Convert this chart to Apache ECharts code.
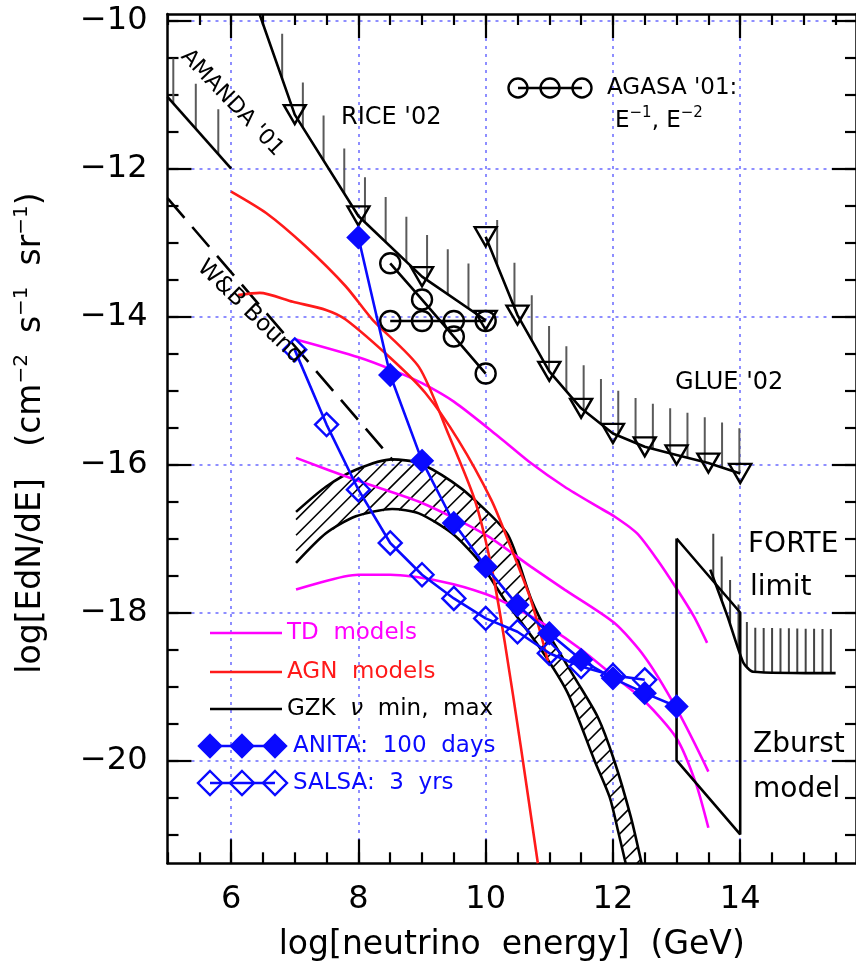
<!DOCTYPE html>
<html><head><meta charset="utf-8">
<script src="https://cdn.jsdelivr.net/npm/echarts@6/dist/echarts.min.js"></script>
<style>html,body{margin:0;padding:0;background:#fff}#c{width:856px;height:969px}</style>
</head><body><div id="c"></div><script>
// Axis ranges
const xMin = 5, xMax = 15.82, yMin = -21.39, yMax = -9.91;
const xMajor = [6, 8, 10, 12, 14];
const yMajor = [-20, -18, -16, -14, -12, -10];
const xMinor = []; for (let v = 5; v <= 15.5; v += 0.5) xMinor.push(v);
const yMinor = []; for (let v = -21; v <= -10; v += 0.5) yMinor.push(v);

// Experimental limits
const amandaX = [5.0, 6.0];
const amandaY = [-11.03, -12.0];
const riceX = [6.45, 7.0, 8.0, 9.0, 10.0];
const riceY = [-9.92, -11.27, -12.64, -13.46, -14.05];
const glueX = [10.0, 10.5, 11.0, 11.5, 12.0, 12.5, 13.0, 13.5, 14.0];
const glueY = [-12.92, -13.98, -14.74, -15.24, -15.58, -15.76, -15.87, -15.98, -16.12];
const agasaX = [8.5, 9.0, 9.5, 10.0];
const agasaE1 = [-14.06, -14.06, -14.06, -14.06];
const agasaE2 = [-13.28, -13.77, -14.27, -14.77];
const forteX = [13.53, 13.8, 14.05, 14.2, 15.5];
const forteY = [-17.42, -18.05, -18.68, -18.8, -18.82];
const zburstX = [13.0, 14.0, 14.0, 13.0, 13.0];
const zburstY = [-17.0, -18.0, -21.0, -20.0, -17.0];

// Waxman-Bahcall bound
const wbX = [5.0, 8.55];
const wbY = [-12.4, -15.95];

// GZK neutrino flux band
const gzkMaxX = [7.02, 7.49, 7.96, 8.53, 8.95, 9.47, 9.83, 10.35, 10.72, 10.98, 11.42, 11.76, 12.02, 12.28, 12.45];
const gzkMaxY = [-16.64, -16.30, -16.07, -15.93, -15.98, -16.23, -16.48, -16.95, -17.83, -18.28, -18.91, -19.41, -20.0, -20.76, -21.39];
const gzkMinX = [7.02, 7.49, 7.96, 8.53, 8.95, 9.47, 9.88, 10.30, 10.87, 11.29, 11.71, 11.95, 12.08, 12.2];
const gzkMinY = [-17.33, -16.93, -16.70, -16.60, -16.66, -16.93, -17.29, -17.83, -18.50, -19.09, -20.0, -20.5, -20.95, -21.39];

// Topological defect models
const td1X = [7.02, 8.0, 8.53, 9.0, 9.5, 10.2, 10.71, 11.24, 11.76, 12.02, 12.38, 12.70, 13.01, 13.27, 13.48];
const td1Y = [-14.31, -14.55, -14.72, -14.9, -15.15, -15.62, -15.98, -16.30, -16.57, -16.70, -16.93, -17.29, -17.69, -18.05, -18.41];
const td2X = [7.02, 7.96, 9.0, 10.0, 10.71, 11.24, 12.02, 12.5, 13.0, 13.5];
const td2Y = [-15.91, -16.21, -16.52, -16.95, -17.38, -17.69, -18.14, -18.6, -19.3, -20.15];
const td3X = [7.02, 8.0, 8.5, 9.3, 10.0, 10.5, 11.0, 11.5, 12.0, 12.5, 13.0, 13.3, 13.5];
const td3Y = [-17.69, -17.49, -17.49, -17.58, -17.75, -17.95, -18.2, -18.5, -18.85, -19.2, -19.7, -20.3, -20.91];

// AGN models
const agn1X = [6.0, 6.55, 7.17, 7.8, 8.22, 8.95, 9.41, 9.83, 10.09, 10.3, 10.55, 10.82];
const agn1Y = [-12.31, -12.60, -13.05, -13.59, -14.04, -14.68, -15.58, -16.48, -17.38, -18.4, -19.8, -21.39];
const agn2X = [6.11, 6.45, 6.97, 7.49, 7.8, 8.53, 9.05, 9.57, 10.09, 10.35, 10.71, 10.98];
const agn2Y = [-13.71, -13.68, -13.80, -13.91, -14.04, -14.58, -15.03, -15.67, -16.48, -17.02, -17.83, -18.66];

// Projected sensitivities
const anitaX = [8, 8.5, 9, 9.5, 10, 10.5, 11, 11.5, 12, 12.5, 13];
const anitaY = [-12.93, -14.79, -15.95, -16.79, -17.38, -17.90, -18.28, -18.64, -18.89, -19.09, -19.27];
const salsaX = [7, 7.5, 8, 8.5, 9, 9.5, 10, 10.5, 11, 11.5, 12, 12.5];
const salsaY = [-14.45, -15.46, -16.34, -17.06, -17.49, -17.81, -18.08, -18.26, -18.55, -18.73, -18.85, -18.91];

const FONT = '"DejaVu Sans", sans-serif';
const MAGENTA = '#ff00ff', RED = '#ff1a1a', BLUE = '#0a0aff';

const pairs = (xs, ys) => xs.map((x, i) => [x, ys[i]]);

function xAxisDef(pos, ticks, len, major) {
  return {
    type: 'value', min: xMin, max: xMax, position: pos,
    axisLine: { show: !major, onZero: false, lineStyle: { color: '#000', width: 2.5 } },
    axisTick: { show: true, inside: true, length: len, customValues: ticks, lineStyle: { color: '#000', width: 2.2 } },
    axisLabel: { show: major && pos === 'bottom', customValues: ticks, margin: 20, color: '#000', fontSize: 32, fontFamily: FONT },
    splitLine: { show: major && pos === 'bottom', lineStyle: { color: '#6a6aff', width: 1.5, type: [3, 5] } },
    name: (major && pos === 'bottom') ? 'log[neutrino  energy]  (GeV)' : '',
    nameLocation: 'middle', nameGap: 66,
    nameTextStyle: { color: '#000', fontSize: 33, fontFamily: FONT }
  };
}
function yAxisDef(pos, ticks, len, major) {
  return {
    type: 'value', min: yMin, max: yMax, position: pos,
    axisLine: { show: !major, onZero: false, lineStyle: { color: '#000', width: 2.5 } },
    axisTick: { show: true, inside: true, length: len, customValues: ticks, lineStyle: { color: '#000', width: 2.2 } },
    axisLabel: { show: major && pos === 'left', customValues: ticks, margin: 20, color: '#000', fontSize: 32, fontFamily: FONT,
      formatter: v => String(v).replace('-', '\u2212') },
    splitLine: { show: major && pos === 'left', lineStyle: { color: '#6a6aff', width: 1.5, type: [3, 5] } }
  };
}

// y position on a pixel polyline at pixel x
function yAt(pts, px) {
  for (let i = 0; i < pts.length - 1; i++) {
    const a = pts[i], b = pts[i + 1];
    if ((px - a[0]) * (px - b[0]) <= 0 && a[0] !== b[0]) {
      return a[1] + (b[1] - a[1]) * (px - a[0]) / (b[0] - a[0]);
    }
  }
  return null;
}

// vertical "upper limit" hatching along a curve
function limitHatch(xs, ys, offset, step, len, color) {
  return {
    type: 'custom', xAxisIndex: 0, yAxisIndex: 0, clip: true, silent: true, z: 1,
    data: [[xs[0], ys[0]]],
    renderItem: (params, api) => {
      const pts = xs.map((x, i) => api.coord([x, ys[i]]));
      const children = [];
      const end = pts[pts.length - 1][0];
      for (let px = pts[0][0] + offset; px <= end + 0.5; px += step) {
        const py = yAt(pts, Math.min(px, end));
        if (py === null) continue;
        children.push({ type: 'line', shape: { x1: px, y1: py, x2: px, y2: py - len },
          style: { stroke: color, lineWidth: 2 } });
      }
      return { type: 'group', children };
    }
  };
}

// diagonal hatching inside the region between two curves
function bandHatch(ux, uy, lx, ly, spacing) {
  return {
    type: 'custom', xAxisIndex: 0, yAxisIndex: 0, clip: true, silent: true, z: 1,
    data: [[ux[0], uy[0]]],
    renderItem: (params, api) => {
      const up = ux.map((x, i) => api.coord([x, uy[i]]));
      const lo = lx.map((x, i) => api.coord([x, ly[i]]));
      const poly = up.concat(lo.slice().reverse());
      let cmin = Infinity, cmax = -Infinity;
      poly.forEach(p => { const c = p[0] + p[1]; cmin = Math.min(cmin, c); cmax = Math.max(cmax, c); });
      const children = [];
      const d = spacing * Math.SQRT2;
      for (let c = cmin + d / 2; c < cmax; c += d) {
        const hits = [];
        for (let i = 0; i < poly.length; i++) {
          const p = poly[i], q = poly[(i + 1) % poly.length];
          const s1 = p[0] + p[1] - c, s2 = q[0] + q[1] - c;
          if (s1 * s2 < 0) {
            const t = s1 / (s1 - s2);
            hits.push([p[0] + t * (q[0] - p[0]), p[1] + t * (q[1] - p[1])]);
          }
        }
        hits.sort((a, b) => a[0] - b[0]);
        for (let k = 0; k + 1 < hits.length; k += 2) {
          children.push({ type: 'line', shape: { x1: hits[k][0], y1: hits[k][1], x2: hits[k + 1][0], y2: hits[k + 1][1] },
            style: { stroke: '#000', lineWidth: 1.6 } });
        }
      }
      return { type: 'group', children };
    }
  };
}

function curve(name, xs, ys, color, extra) {
  return Object.assign({
    name, type: 'line', xAxisIndex: 0, yAxisIndex: 0, data: pairs(xs, ys),
    symbol: 'none', smooth: 0.25, clip: true, z: 3,
    lineStyle: { color, width: 2.6 }
  }, extra || {});
}

function markedLine(name, xs, ys, color, symbol, size, fill, extra) {
  return Object.assign({
    name, type: 'line', xAxisIndex: 0, yAxisIndex: 0,
    data: pairs(xs, ys), symbol, symbolSize: size, showSymbol: true, clip: true, z: 4,
    lineStyle: { color, width: 2.6 },
    itemStyle: { color: fill, borderColor: color, borderWidth: 2.4 }
  }, extra || {});
}

const riceData = pairs(riceX, riceY).map((p, i) => i === 0 ? { value: p, symbol: 'none' } : p);

const series = [
  limitHatch(amandaX, amandaY, 5.8, 22.5, 45, '#5a5a5a'),
  limitHatch(riceX, riceY, 22.4, 20.7, 45, '#5a5a5a'),
  limitHatch(glueX, glueY, 11.5, 17.3, 45, '#5a5a5a'),
  limitHatch(forteX, forteY, 3, 8.4, 44, '#444'),
  bandHatch(gzkMaxX, gzkMaxY, gzkMinX, gzkMinY, 11),
  curve('W&B', wbX, wbY, '#000', { smooth: false, lineStyle: { color: '#000', width: 2.6, type: [26, 12] } }),
  curve('AMANDA', amandaX, amandaY, '#000', { smooth: false }),
  markedLine('RICE', riceX, riceY, '#000', 'triangle', [22, 19], 'rgba(0,0,0,0)',
    { data: riceData, symbolRotate: 180 }),
  markedLine('GLUE', glueX, glueY, '#000', 'triangle', [22, 19], 'rgba(0,0,0,0)', { symbolRotate: 180 }),
  markedLine('AGASA E-1', agasaX, agasaE1, '#000', 'circle', 20, 'rgba(0,0,0,0)'),
  markedLine('AGASA E-2', agasaX, agasaE2, '#000', 'circle', 20, 'rgba(0,0,0,0)'),
  curve('GZK max', gzkMaxX, gzkMaxY, '#000'),
  curve('GZK min', gzkMinX, gzkMinY, '#000'),
  curve('TD 1', td1X, td1Y, MAGENTA),
  curve('TD 2', td2X, td2Y, MAGENTA),
  curve('TD 3', td3X, td3Y, MAGENTA),
  curve('AGN 1', agn1X, agn1Y, RED),
  curve('AGN 2', agn2X, agn2Y, RED),
  curve('Zburst', zburstX, zburstY, '#000', { smooth: false }),
  curve('FORTE', forteX, forteY, '#000', { smooth: 0.2 }),
  markedLine('SALSA', salsaX, salsaY, BLUE, 'diamond', 23, 'rgba(0,0,0,0)', { z: 5 }),
  markedLine('ANITA', anitaX, anitaY, BLUE, 'diamond', 21, BLUE, { z: 6 })
];

// annotation text helpers
function txt(x, y, text, size, color, extra) {
  return Object.assign({
    type: 'text', x, y, silent: true, z: 100,
    style: { text, fill: color || '#000', font: size + 'px ' + FONT, textAlign: 'left', textVerticalAlign: 'middle' }
  }, extra || {});
}
function rotTxt(x, y, text, size, rot) {
  return { type: 'text', x, y, rotation: rot, silent: true, z: 100,
    style: { text, fill: '#000', font: size + 'px ' + FONT, textAlign: 'center', textVerticalAlign: 'middle' } };
}
function richTxt(x, y, text, rich, extra) {
  return Object.assign({
    type: 'text', x, y, silent: true, z: 100,
    style: { text, rich, textAlign: 'left', textVerticalAlign: 'middle' }
  }, extra || {});
}
function hline(x1, x2, y, color) {
  return { type: 'line', silent: true, z: 99, shape: { x1, y1: y, x2, y2: y }, style: { stroke: color, lineWidth: 2.6 } };
}
function diamond(cx, cy, r, color, filled) {
  return { type: 'polygon', silent: true, z: 100,
    shape: { points: [[cx, cy - r], [cx + r, cy], [cx, cy + r], [cx - r, cy]] },
    style: { fill: filled ? color : 'rgba(0,0,0,0)', stroke: color, lineWidth: 2.4 } };
}
function ring(cx, cy, r) {
  return { type: 'circle', silent: true, z: 100, shape: { cx, cy, r },
    style: { fill: 'rgba(0,0,0,0)', stroke: '#000', lineWidth: 2.4 } };
}

const base = (size, color) => ({ fontSize: size, fontFamily: FONT, fill: color || '#000', color: color || '#000' });

const graphics = [
  // y-axis title, rotated to read upwards
  { type: 'text', x: 31, y: 433, rotation: Math.PI / 2, silent: true, z: 100,
    style: { text: '{n|log[EdN/dE]   (cm}{s|\u22122}{n|  s}{s|\u22121}{n|  sr}{s|\u22121}{n|)}', textAlign: 'center', textVerticalAlign: 'middle',
      rich: { n: Object.assign(base(33), { lineHeight: 38, verticalAlign: 'middle' }),
              s: Object.assign(base(20), { lineHeight: 38, verticalAlign: 'top' }) } } },
  // curve labels
  txt(341, 118, "RICE '02", 24),
  txt(675, 383, "GLUE '02", 24),
  rotTxt(232, 103, "AMANDA '01", 22, -0.81),
  rotTxt(250, 312, 'W&B Bound', 23, -0.77),
  txt(748, 545, 'FORTE', 28),
  txt(750, 588, 'limit', 28),
  txt(753, 745, 'Zburst', 28),
  txt(753, 790, 'model', 28),
  // AGASA key
  hline(518, 582, 88, '#000'), ring(518, 88, 9.5), ring(550, 88, 9.5), ring(582, 88, 9.5),
  txt(607, 88, "AGASA '01:", 23),
  richTxt(615, 121, '{n|E}{s|\u22121}{n|, E}{s|\u22122}', {
    n: Object.assign(base(23), { lineHeight: 30, verticalAlign: 'middle' }),
    s: Object.assign(base(15), { lineHeight: 30, verticalAlign: 'top' })
  }),
  // model key
  hline(210, 282, 633, MAGENTA), txt(287, 633, 'TD  models', 23, MAGENTA),
  hline(210, 282, 672, RED), txt(287, 672, 'AGN  models', 23, RED),
  hline(210, 282, 709, '#000'),
  richTxt(287, 709, '{n|GZK  }{i|\u03bd}{n|  min,  max}', {
    n: base(23), i: Object.assign(base(23), { fontStyle: 'italic' })
  }),
  hline(210, 275, 746, BLUE), diamond(210, 746, 11, BLUE, true), diamond(242, 746, 11, BLUE, true), diamond(275, 746, 11, BLUE, true),
  txt(293, 746, 'ANITA:  100  days', 23, BLUE),
  hline(210, 275, 783, BLUE), diamond(210, 783, 12, BLUE, false), diamond(242, 783, 12, BLUE, false), diamond(275, 783, 12, BLUE, false),
  txt(293, 783, 'SALSA:  3  yrs', 23, BLUE)
];

const chart = echarts.init(document.getElementById('c'), null, { renderer: 'canvas' });
chart.setOption({
  animation: false,
  backgroundColor: '#fff',
  grid: { left: 167.5, right: -4, top: 14, bottom: 105.7, containLabel: false },
  xAxis: [
    xAxisDef('bottom', xMinor, 11, false),
    xAxisDef('bottom', xMajor, 24, true),
    xAxisDef('top', xMinor, 11, false),
    xAxisDef('top', xMajor, 24, true)
  ],
  yAxis: [
    yAxisDef('left', yMinor, 11, false),
    yAxisDef('left', yMajor, 24, true),
    yAxisDef('right', yMinor, 11, false),
    yAxisDef('right', yMajor, 24, true)
  ],
  series,
  graphic: { elements: graphics }
});
</script></body></html>
